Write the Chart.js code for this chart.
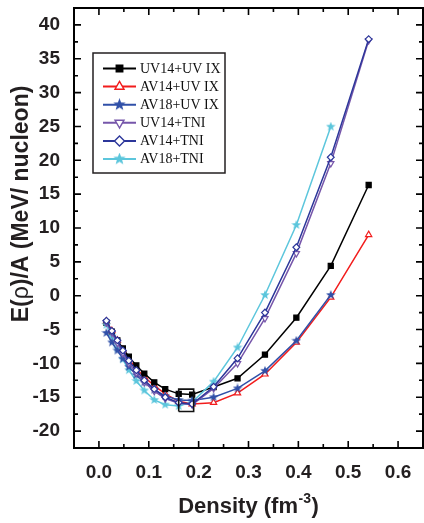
<!DOCTYPE html>
<html>
<head>
<meta charset="utf-8">
<script src="https://cdn.jsdelivr.net/npm/chart.js@4.4.1/dist/chart.umd.min.js"></script>
<style>
html,body{margin:0;padding:0;background:#fff;}
#wrap{width:424px;height:523px;}
</style>
</head>
<body>
<div id="wrap"><canvas id="c" width="424" height="523"></canvas></div>
<script>
// ---- data ----
const density = [0.015, 0.026, 0.037, 0.048, 0.060, 0.075, 0.091, 0.111, 0.133, 0.160, 0.187, 0.230, 0.278, 0.333, 0.396, 0.465, 0.541];
const seriesNames = ['UV14+UV IX', 'AV14+UV IX', 'AV18+UV IX', 'UV14+TNI', 'AV14+TNI', 'AV18+TNI'];
const uv14UvIX = [-4.0, -5.3, -6.6, -7.8, -9.0, -10.3, -11.5, -12.8, -13.8, -14.5, -14.6, -13.5, -12.2, -8.7, -3.25, 4.4, 16.35];
const av14UvIX = [-3.8, -5.2, -6.6, -8.0, -9.4, -10.8, -12.0, -13.3, -14.5, -15.6, -16.0, -15.8, -14.4, -11.6, -6.9, -0.25, 9.0];
const av18UvIX = [-5.5, -6.9, -8.1, -9.3, -10.5, -11.7, -12.8, -13.9, -14.8, -15.4, -15.5, -15.0, -13.7, -11.1, -6.65, 0.1];
const uv14TNI  = [-4.0, -5.5, -7.0, -8.5, -10.0, -11.4, -12.8, -14.1, -15.2, -15.9, -16.1, -13.7, -10.0, -3.35, 6.25, 19.55, 37.7];
const av14TNI  = [-3.7, -5.2, -6.6, -8.1, -9.6, -11.0, -12.5, -13.8, -15.0, -15.8, -16.0, -13.45, -9.25, -2.5, 7.15, 20.45, 37.9];
const av18TNI  = [-4.3, -6.0, -7.8, -9.4, -11.0, -12.6, -14.0, -15.4, -16.1, -16.3, -15.7, -12.7, -7.65, 0.1, 10.45, 24.97];
// empirical saturation box
const satBoxX = [0.160, 0.190, 0.190, 0.160, 0.160];
const satBoxY = [-17.1, -17.1, -13.8, -13.8, -17.1];
// tick labels
const xTicks = [0.0, 0.1, 0.2, 0.3, 0.4, 0.5, 0.6];
const yTicks = [-20, -15, -10, -5, 0, 5, 10, 15, 20, 25, 30, 35, 40];

function pts(xs, ys){ return ys.map((v,i)=>({x:xs[i], y:v})); }

function makeStar(color, size){
  const c = document.createElement('canvas');
  c.width = size; c.height = size;
  const g = c.getContext('2d');
  const cx = size/2, cy = size/2, R = size/2, r = R*0.42;
  g.beginPath();
  for (let i=0;i<10;i++){
    const a = -Math.PI/2 + i*Math.PI/5;
    const rr = (i%2===0)?R:r;
    const px = cx + rr*Math.cos(a), py = cy + rr*Math.sin(a);
    if(i===0) g.moveTo(px,py); else g.lineTo(px,py);
  }
  g.closePath();
  g.fillStyle = color; g.fill();
  return c;
}

const cBlack='#000000', cRed='#f21c1c', cBlue='#3050a8', cPurple='#7656aa', cNavy='#2c369a', cCyan='#5cc6dc';
const starBlue = makeStar(cBlue, 10), starCyan = makeStar(cCyan, 10);
const starBlueL = makeStar(cBlue, 13), starCyanL = makeStar(cCyan, 13);

const styles = [
  {color:cBlack, style:'rect', fill:cBlack, rot:0, r:3.6, lr:4.6},
  {color:cRed, style:'triangle', fill:'#fff', rot:0, r:3.6, lr:5.2},
  {color:cBlue, style:starBlue, fill:cBlue, rot:0, r:4, lr:5, lstyle:starBlueL},
  {color:cPurple, style:'triangle', fill:'#fff', rot:180, r:3.6, lr:5.2},
  {color:cNavy, style:'rectRot', fill:'#fff', rot:0, r:3.4, lr:5},
  {color:cCyan, style:starCyan, fill:cCyan, rot:0, r:4, lr:5, lstyle:starCyanL}
];
const seriesValues = [uv14UvIX, av14UvIX, av18UvIX, uv14TNI, av14TNI, av18TNI];

const datasets = seriesValues.map((vals,i)=>({
  label: seriesNames[i],
  data: pts(density, vals),
  borderColor: styles[i].color,
  backgroundColor: styles[i].fill,
  pointStyle: styles[i].style,
  pointRotation: styles[i].rot,
  pointRadius: styles[i].r,
  pointBorderWidth: 1.2,
  borderWidth: 1.5,
  showLine: true,
  tension: 0,
  order: [5,6,3,2,1,4][i]
}));
datasets.push({
  label: 'saturation',
  data: pts(satBoxX, satBoxY),
  borderColor: '#111',
  borderWidth: 1.6,
  pointRadius: 0,
  showLine: true,
  fill: false,
  order: 0
});

const tickFont = {family:"'Liberation Sans', Arial, sans-serif", size:19, weight:'bold'};

const framePlugin = {
  id:'frame',
  afterDraw(chart){
    const {ctx, chartArea:a, scales:{x, y}} = chart;
    ctx.save();
    ctx.strokeStyle = '#000';
    ctx.lineWidth = 2;
    ctx.strokeRect(a.left, a.top, a.right-a.left, a.bottom-a.top);
    ctx.lineWidth = 1.6;
    ctx.beginPath();
    const xs = [];
    xTicks.forEach((v,i)=>{ xs.push([v,7]); if(i<xTicks.length-1) xs.push([(v+xTicks[i+1])/2,4]); });
    xs.push([xTicks[0]-(xTicks[1]-xTicks[0])/2,4]);
    xs.forEach(([v,len])=>{
      const px = x.getPixelForValue(v);
      if (px <= a.left+1 || px >= a.right-1) return;
      ctx.moveTo(px, a.bottom); ctx.lineTo(px, a.bottom-len);
      ctx.moveTo(px, a.top); ctx.lineTo(px, a.top+len);
    });
    const ys = [];
    yTicks.forEach((v,i)=>{ ys.push([v,7]); if(i<yTicks.length-1) ys.push([(v+yTicks[i+1])/2,4]); });
    ys.forEach(([v,len])=>{
      const py = y.getPixelForValue(v);
      if (py <= a.top+1 || py >= a.bottom-1) return;
      ctx.moveTo(a.left, py); ctx.lineTo(a.left+len, py);
      ctx.moveTo(a.right, py); ctx.lineTo(a.right-len, py);
    });
    ctx.stroke();

    // axis titles
    ctx.fillStyle = '#231f20';
    ctx.textBaseline = 'alphabetic';
    ctx.textAlign = 'left';
    const bold22 = "bold 22px 'Liberation Sans', Arial, sans-serif";
    const bold14 = "bold 14px 'Liberation Sans', Arial, sans-serif";
    ctx.font = bold22; const w1 = ctx.measureText('Density (fm').width; const w3 = ctx.measureText(')').width;
    ctx.font = bold14; const w2 = ctx.measureText('-3').width;
    const cx = (a.left+a.right)/2;
    let sx = cx - (w1+w2+w3+1)/2;
    const by = 513;
    ctx.font = bold22; ctx.fillText('Density (fm', sx, by);
    ctx.font = bold14; ctx.fillText('-3', sx+w1+0.5, by-10);
    ctx.font = bold22; ctx.fillText(')', sx+w1+w2+1, by);

    // y title
    const bold23 = "bold 23px 'Liberation Sans', Arial, sans-serif";
    const reg23 = "23px 'Liberation Sans', Arial, sans-serif";
    const parts = [['E(', bold23], ['\u03C1', reg23], [')/A (MeV/ nucleon)', bold23]];
    let tw = 0; const ws = parts.map(p=>{ctx.font=p[1]; const w=ctx.measureText(p[0]).width; tw+=w; return w;});
    ctx.save();
    ctx.translate(28, 204);
    ctx.rotate(-Math.PI/2);
    let tx = -tw/2;
    parts.forEach((p,i)=>{ ctx.font=p[1]; ctx.fillText(p[0], tx, 0); tx += ws[i]; });
    ctx.restore();

    // legend
    const L = {x:93, y:53, w:132, h:120};
    ctx.fillStyle = '#fff';
    ctx.fillRect(L.x, L.y, L.w, L.h);
    ctx.strokeStyle = '#231f20';
    ctx.lineWidth = 1.5;
    ctx.strokeRect(L.x, L.y, L.w, L.h);
    ctx.font = "14px 'Liberation Serif', 'Times New Roman', serif";
    ctx.textBaseline = 'middle';
    seriesNames.forEach((name,i)=>{
      const ry = 68.5 + i*18.1;
      const st = styles[i];
      ctx.strokeStyle = st.color; ctx.lineWidth = 2;
      ctx.beginPath(); ctx.moveTo(103, ry); ctx.lineTo(136, ry); ctx.stroke();
      ctx.fillStyle = st.fill; ctx.strokeStyle = st.color; ctx.lineWidth = 1.4;
      Chart.helpers.drawPoint(ctx, {pointStyle: st.lstyle || st.style, rotation: st.rot, radius: st.lr, borderWidth: 1.4}, 119.5, ry);
      ctx.fillStyle = '#111';
      ctx.fillText(name, 140, ry+0.5);
    });
    ctx.restore();
  }
};

new Chart(document.getElementById('c'), {
  type: 'scatter',
  data: {datasets},
  options: {
    responsive: false,
    animation: false,
    layout: {autoPadding: false, padding: {top: 8, right: 1, left: 0, bottom: 0}},
    plugins: {legend: {display: false}, tooltip: {enabled: false}},
    scales: {
      x: {
        type: 'linear', min: -0.05, max: 0.65,
        grid: {display: false}, border: {display: false},
        afterBuildTicks: s => { s.ticks = xTicks.map(v=>({value:v})); },
        afterFit: s => { s.height = 75; s.paddingLeft = 0; s.paddingRight = 0; },
        ticks: {font: tickFont, color: '#231f20', padding: 5, maxRotation: 0, autoSkip: false,
                callback: v => Number(v).toFixed(1)}
      },
      y: {
        type: 'linear', min: -22.5, max: 42.5,
        grid: {display: false}, border: {display: false},
        afterBuildTicks: s => { s.ticks = yTicks.map(v=>({value:v})); },
        afterFit: s => { s.width = 74; s.paddingTop = 0; s.paddingBottom = 0; },
        ticks: {font: tickFont, color: '#231f20', padding: 6, autoSkip: false,
                callback: v => String(v)}
      }
    }
  },
  plugins: [framePlugin]
});
</script>
</body>
</html>
